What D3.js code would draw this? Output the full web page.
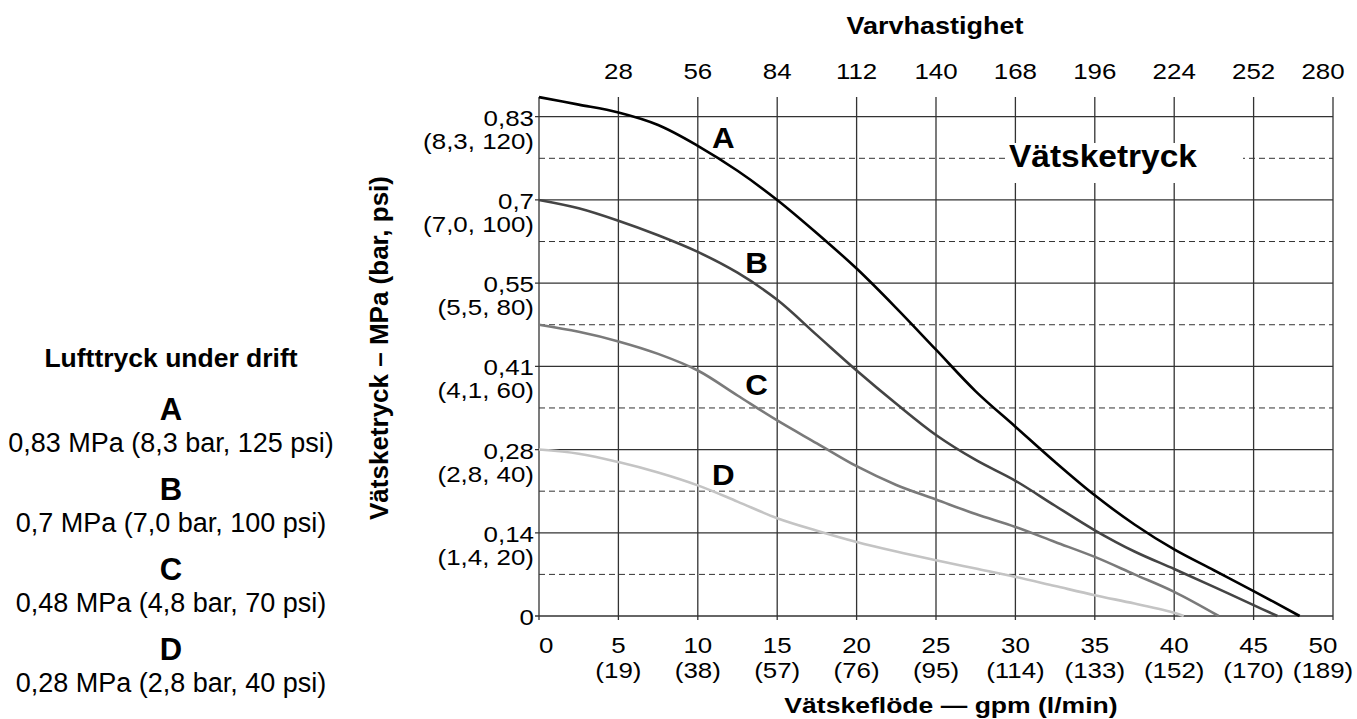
<!DOCTYPE html>
<html>
<head>
<meta charset="utf-8">
<script src="https://cdn.jsdelivr.net/npm/d3@7/dist/d3.min.js"></script>
<style>
body{margin:0;background:#fff;}
text{font-family:"Liberation Sans",Arial,Helvetica,sans-serif;fill:#000;}
</style>
</head>
<body>
<svg id="chart" width="1357" height="719"></svg>
<script>
// ---------- data ----------
const gpmTicks = [0,5,10,15,20,25,30,35,40,45,50];
const lpmLabels = ["","(19)","(38)","(57)","(76)","(95)","(114)","(133)","(152)","(170)","(189)"];
const rpmTicks = [28,56,84,112,140,168,196,224,252,280];
const psiTicks = [0,20,40,60,80,100,120];
const mpaLabels = ["0","0,14","0,28","0,41","0,55","0,7","0,83"];
const barPsiLabels = ["","(1,4, 20)","(2,8, 40)","(4,1, 60)","(5,5, 80)","(7,0, 100)","(8,3, 120)"];
const dashedPsi = [10,30,50,70,90,110];

const seriesNames = ["A","B","C","D"];
const flowA  = [0,2.5,5,7.5,10,12.5,15,17.5,20,22.5,25,27.5,30,32.5,35,37.5,40,42.5,45,47.9];
const pressA = [124.7,122.9,121,118,113,107,100,92,83.5,74,64,54,45.5,37,29,22,16,11,6,0];
const flowB  = [0,2.5,5,7.5,10,12.5,15,17.5,20,22.5,25,27.5,30,32.5,35,37.5,40,42.5,45,46.5];
const pressB = [100,98,95,91.5,87.5,82.5,76,67.5,59,51,43.5,37.5,32.5,26.5,20.6,15.5,11.3,7,2.6,0];
const flowC  = [0,2.5,5,7.5,10,12.5,15,17.5,20,22.5,25,27.5,30,32.5,35,37.5,40,42.8];
const pressC = [70,68.3,66,63,59,53,47,41.5,36,31.5,28,24.5,21.4,17.8,14.2,10,5.8,0];
const flowD  = [0,2.5,5,7.5,10,12.5,15,17.5,20,22.5,25,27.5,30,32.5,35,37.5,40,40.6];
const pressD = [40,39,37,34.5,31.4,27.5,23.5,20.5,17.8,15.5,13.4,11.4,9.4,7.2,5,3,0.8,0];

const legendTitle = "Lufttryck under drift";
const legendLines = ["0,83 MPa (8,3 bar, 125 psi)","0,7 MPa (7,0 bar, 100 psi)","0,48 MPa (4,8 bar, 70 psi)","0,28 MPa (2,8 bar, 40 psi)"];
const topTitle = "Varvhastighet";
const bottomTitle = "Vätskeflöde — gpm (l/min)";
const leftTitle = "Vätsketryck – MPa (bar, psi)";
const plotTitle = "Vätsketryck";

// ---------- layout ----------
const L = 539, R = 1333, B = 616, T = 97;
const SX = 1.08, SY = 0.92; // proportions of the reference lettering
const svg = d3.select("#chart");
const x = d3.scaleLinear().domain([0,50]).range([L,R]);
const xr = d3.scaleLinear().domain([0,280]).range([L,R]);
const y = d3.scaleLinear().domain([0,120]).range([B,116.7]);

function label(g, px, py, lines, o){
  const t = g.append("text")
    .attr("transform",`translate(${px},${py}) scale(${o.sx||1},${o.sy||1})`)
    .attr("text-anchor",o.anchor||"middle")
    .attr("font-size",o.size).attr("font-weight",o.weight||"normal");
  lines.forEach((s,i)=>{
    if(!s) return;
    t.append("tspan").attr("x",0).attr("y",i*(o.lh||0)/(o.sy||1)).text(s);
  });
  return t;
}

const series = [
  {name:"A", fx:flowA, py:pressA, color:"#000000", lx:11.6, ly:115.2},
  {name:"B", fx:flowB, py:pressB, color:"#444444", lx:13.7, ly:85},
  {name:"C", fx:flowC, py:pressC, color:"#7a7a7a", lx:13.7, ly:55.7},
  {name:"D", fx:flowD, py:pressD, color:"#c4c4c4", lx:11.6, ly:34.1}
];

const grid = svg.append("g");
grid.selectAll("line.dash").data(dashedPsi).join("line")
  .attr("x1",L).attr("x2",R).attr("y1",d=>y(d)).attr("y2",d=>y(d))
  .attr("stroke","#333").attr("stroke-width",1).attr("stroke-dasharray","6,4");
grid.selectAll("line.h").data(psiTicks).join("line")
  .attr("x1",L-4).attr("x2",R).attr("y1",d=>y(d)).attr("y2",d=>y(d))
  .attr("stroke","#333").attr("stroke-width",1.3);
grid.selectAll("line.v").data(gpmTicks).join("line")
  .attr("x1",d=>x(d)).attr("x2",d=>x(d)).attr("y1",T).attr("y2",B+4)
  .attr("stroke","#333").attr("stroke-width",1.3);

// white box behind plot title
svg.append("rect").attr("x",1006).attr("y",143).attr("width",237).attr("height",40).attr("fill","#fff");
label(svg, 1103, 167, [plotTitle], {size:31, weight:"bold", sx:SX});

// curves
const line = d3.line().x(d=>x(d[0])).y(d=>y(d[1])).curve(d3.curveCatmullRom.alpha(0.5));
svg.selectAll("path.curve").data(series).join("path")
  .attr("d",s=>line(s.fx.map((f,i)=>[f,s.py[i]])))
  .attr("fill","none").attr("stroke",s=>s.color).attr("stroke-width",2.6)
  .attr("stroke-linejoin","round");

// curve labels
series.forEach(s=>label(svg, x(s.lx), y(s.ly)+11, [s.name], {size:29, weight:"bold", sx:SX}));

// y tick labels (two lines)
const yl = svg.append("g");
psiTicks.forEach((v,i)=>label(yl, 534, y(v)+9, [mpaLabels[i], barPsiLabels[i]], {size:24, anchor:"end", lh:23, sx:SX, sy:SY}));

// bottom tick labels (two lines)
const xl = svg.append("g");
gpmTicks.forEach((v,i)=>{
  const last = i===gpmTicks.length-1;
  if(i===0) label(xl, x(v), 653, [String(v)], {size:24, anchor:"start", sx:SX, sy:SY});
  else label(xl, x(v)-(last?10:0), 653, [String(v), lpmLabels[i]], {size:24, lh:25, sx:SX, sy:SY});
});

// top tick labels
const tl = svg.append("g");
rpmTicks.forEach((v,i)=>label(tl, xr(v)-(i===rpmTicks.length-1?10:0), 79, [String(v)], {size:24, sx:SX, sy:SY}));

// titles
label(svg, 935, 34, [topTitle], {size:25, weight:"bold", sx:SX, sy:SY});
label(svg, 951, 713, [bottomTitle], {size:24.6, weight:"bold", sx:SX, sy:SY});
svg.append("text").attr("transform","translate(388,348) rotate(-90)").attr("text-anchor","middle")
  .attr("font-size",26).attr("font-weight","bold").text(leftTitle);

// legend
const lg = svg.append("g");
label(lg, 171, 367, [legendTitle], {size:26.5, weight:"bold"});
seriesNames.forEach((n,i)=>{
  label(lg, 171, 420+i*80, [n], {size:31, weight:"bold"});
  label(lg, 171, 452+i*80, [legendLines[i]], {size:27});
});
</script>
</body>
</html>
